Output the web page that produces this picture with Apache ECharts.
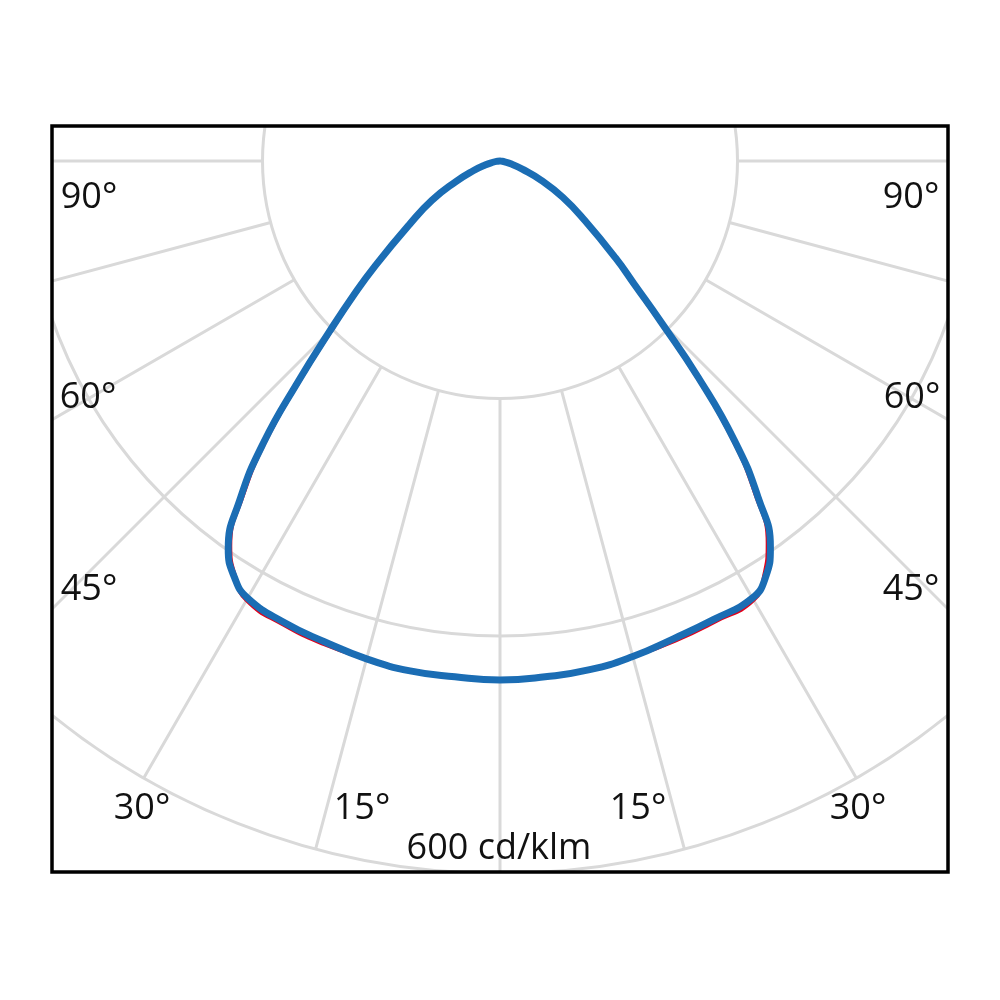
<!DOCTYPE html>
<html>
	<head>
		<meta charset="utf-8">
		<title>600 cd/klm</title>
		<script src="https://cdn.jsdelivr.net/npm/echarts/dist/echarts.min.js"></script>
		<style>
			body { margin: 0; background: #fff; }
		</style>
	</head>
	<body>
		<div id="main" style="width: 1000px;height:1000px;"></div>
		<script>
		/* 角度 (从正下方算起) */
		var angles = [0, 5, 10, 15, 20, 25, 30, 32.5, 35, 37.5, 40, 42.5, 45, 47.5, 50, 55, 60, 65, 70, 75, 80, 85, 90];
		/* 蓝线 左/右 cd/klm */
		var blueLeft  = [437, 436, 436, 434, 431, 429, 425, 416, 399, 360, 310, 251, 203, 167, 137, 93, 66, 41, 24, 13, 6, 2, 0];
		var blueRight = [437, 436, 435, 432, 428, 426, 425, 416, 397, 357, 307, 247, 192, 153, 127, 87, 61, 38, 20, 10, 4, 1, 0];
		/* 红线 左/右 */
		var redLeft  = [437, 436, 436, 434, 433, 431, 427, 415, 396, 356, 306, 247, 199, 164, 135, 91, 65, 41, 24, 13, 6, 2, 0];
		var redRight = [437, 436, 435, 432, 430, 428, 427, 414, 393, 353, 303, 243, 188, 150, 125, 85, 60, 38, 20, 10, 4, 1, 0];
		/* 刻度文字 */
		var sideLabels = ['90°', '60°', '45°', '30°', '15°'];
		var scaleLabel = '600 cd/klm';

		var cx = 500, cy = 161;
		var rInner = 237.5, rOuter = 712.5;
		var box = { x: 52, y: 126, w: 896, h: 746 };

		// 左边从90°走到0°, 右边从0°走回90°
		function buildCurve(left, right) {
			var pts = [];
			for (var i = left.length - 1; i >= 0; i--) {
				pts.push([left[i], angles[i]]);
			}
			for (var j = 1; j < right.length; j++) {
				pts.push([right[j], 360 - angles[j]]);
			}
			return pts;
		}

		var labelPos = [
			[89, 198], [88, 398], [89, 590], [142, 809], [362, 809]
		];
		var font = '36px "Open Sans", "Liberation Sans", sans-serif';
		var graphics = [];
		// 遮住框外的网格
		graphics.push({ type: 'rect', z: 100, shape: { x: 0, y: 0, width: 1000, height: box.y }, style: { fill: '#fff' } });
		graphics.push({ type: 'rect', z: 100, shape: { x: 0, y: 0, width: box.x, height: 1000 }, style: { fill: '#fff' } });
		graphics.push({ type: 'rect', z: 100, shape: { x: box.x + box.w, y: 0, width: 1000, height: 1000 }, style: { fill: '#fff' } });
		graphics.push({ type: 'rect', z: 100, shape: { x: 0, y: box.y + box.h, width: 1000, height: 200 }, style: { fill: '#fff' } });
		graphics.push({ type: 'rect', z: 101, shape: { x: box.x, y: box.y, width: box.w, height: box.h }, style: { fill: 'none', stroke: '#000', lineWidth: 3.5 } });
		for (var k = 0; k < sideLabels.length; k++) {
			graphics.push({ type: 'text', z: 102, x: labelPos[k][0], y: labelPos[k][1],
				style: { text: sideLabels[k], font: font, fill: '#111', align: 'center', verticalAlign: 'middle' } });
			graphics.push({ type: 'text', z: 102, x: 2 * cx - labelPos[k][0], y: labelPos[k][1],
				style: { text: sideLabels[k], font: font, fill: '#111', align: 'center', verticalAlign: 'middle' } });
		}
		graphics.push({ type: 'text', z: 102, x: 499, y: 849,
			style: { text: scaleLabel, font: font, fill: '#111', align: 'center', verticalAlign: 'middle' } });

		var gridLine = { show: true, lineStyle: { color: '#d9d9d9', width: 3 } };
		var hidden = { show: false };

		var myChart = echarts.init(document.getElementById('main'));
		var option = {
			animation: false,
			backgroundColor: '#fff',
			polar: [
				{ center: [cx, cy], radius: [rInner, rOuter] },
				{ center: [cx, cy], radius: [0, rOuter] }
			],
			angleAxis: [
				{ polarIndex: 0, type: 'value', min: 0, max: 360, interval: 15, startAngle: 270, clockwise: true,
				  axisLine: hidden, axisTick: hidden, axisLabel: hidden, splitLine: gridLine },
				{ polarIndex: 1, type: 'value', min: 0, max: 360, startAngle: 270, clockwise: true,
				  axisLine: hidden, axisTick: hidden, axisLabel: hidden, splitLine: hidden }
			],
			radiusAxis: [
				{ polarIndex: 0, type: 'value', min: 200, max: 600, interval: 200,
				  axisLine: hidden, axisTick: hidden, axisLabel: hidden, splitLine: gridLine },
				{ polarIndex: 1, type: 'value', min: 0, max: 600,
				  axisLine: hidden, axisTick: hidden, axisLabel: hidden, splitLine: hidden }
			],
			graphic: graphics,
			series: [
				{
					type: 'line', coordinateSystem: 'polar', polarIndex: 1,
					data: buildCurve(redLeft, redRight),
					showSymbol: false, smooth: 0.5,
					lineStyle: { color: '#e2001a', width: 4, join: 'round' }
				},
				{
					type: 'line', coordinateSystem: 'polar', polarIndex: 1,
					data: buildCurve(blueLeft, blueRight),
					showSymbol: false, smooth: 0.5,
					lineStyle: { color: '#1b6db4', width: 7, join: 'round', cap: 'round' }
				}
			]
		};
		myChart.setOption(option);
		</script>
	</body>
</html>
